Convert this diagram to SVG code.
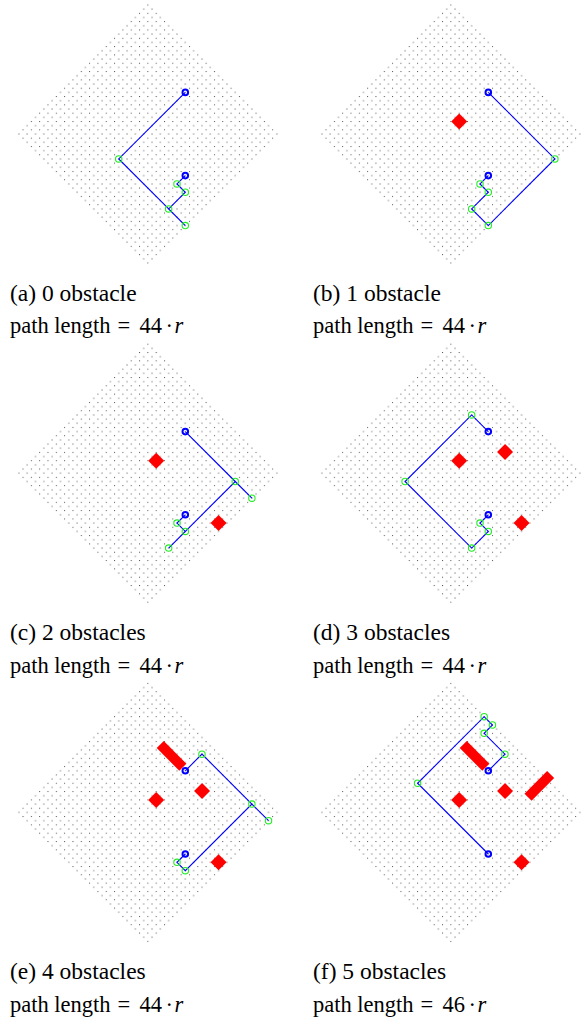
<svg xmlns="http://www.w3.org/2000/svg" width="584" height="1017" viewBox="0 0 584 1017">
<style>
.grid{fill:url(#dots)}
.path{fill:none;stroke:#0000ff;stroke-width:1.1;stroke-linejoin:miter}
.wp{fill:none;stroke:#22ee22;stroke-width:1.1}
.end{fill:none;stroke:#0000ff;stroke-width:2}
.obs{fill:#ff0000}
.cap{font-family:"Liberation Serif",serif;font-size:23.5px;fill:#000}
.l2{font-size:22.5px}
.it{font-style:italic}
</style>
<defs>
<pattern id="dots" patternUnits="userSpaceOnUse" x="-0.5" y="-0.5" width="8.322" height="8.322">
<rect x="0" y="0" width="1" height="1" fill="#555"/>
<rect x="4.161" y="4.161" width="1" height="1" fill="#555"/>
</pattern>
<polygon id="diamond" points="0,-2 131,129 0,260 -131,129"/>
<polygon id="obsA" points="8.32,108.51 16.32,116.51 8.32,124.51 0.32,116.51"/>
<polygon id="obsB" points="70.74,170.92 78.74,178.92 70.74,186.92 62.74,178.92"/>
<polygon id="obsC" points="54.2,99.7 62.2,107.7 54.2,115.7 46.2,107.7"/>
<rect id="bar1" x="-16" y="-5" width="32" height="10" transform="translate(23.7,72.5) rotate(45)"/>
<rect id="bar2" x="-16" y="-5" width="32" height="10" transform="translate(88.5,102.5) rotate(-45)"/>
</defs>

<g id="panel-a" transform="translate(147.85,5)">
<use href="#diamond" class="grid"/>
<g id="connectors-a"><polyline class="path" points="37.45,87.38 -29.13,153.96 20.81,203.89 37.45,220.53 20.81,203.89 37.45,187.25 29.13,178.92 37.45,170.6"/></g>
<g id="nodes-a">
<circle class="wp" cx="-29.13" cy="153.96" r="3.2"/>
<circle class="wp" cx="20.81" cy="203.89" r="3.2"/>
<circle class="wp" cx="37.45" cy="220.53" r="3.2"/>
<circle class="wp" cx="37.45" cy="187.25" r="3.2"/>
<circle class="wp" cx="29.13" cy="178.92" r="3.2"/>
<circle class="end" cx="37.45" cy="87.38" r="2.8"/>
<circle class="end" cx="37.45" cy="170.6" r="2.8"/>
</g>
</g>

<g id="panel-b" transform="translate(450.85,5)">
<use href="#diamond" class="grid"/>
<use href="#obsA" class="obs"/>
<g id="connectors-b"><polyline class="path" points="37.45,87.38 104.03,153.96 37.45,220.53 20.81,203.89 37.45,187.25 29.13,178.92 37.45,170.6"/></g>
<g id="nodes-b">
<circle class="wp" cx="104.03" cy="153.96" r="3.2"/>
<circle class="wp" cx="37.45" cy="220.53" r="3.2"/>
<circle class="wp" cx="20.81" cy="203.89" r="3.2"/>
<circle class="wp" cx="37.45" cy="187.25" r="3.2"/>
<circle class="wp" cx="29.13" cy="178.92" r="3.2"/>
<circle class="end" cx="37.45" cy="87.38" r="2.8"/>
<circle class="end" cx="37.45" cy="170.6" r="2.8"/>
</g>
</g>

<g id="panel-c" transform="translate(147.85,344.2)">
<use href="#diamond" class="grid"/>
<use href="#obsA" class="obs"/>
<use href="#obsB" class="obs"/>
<g id="connectors-c"><polyline class="path" points="37.45,87.38 87.38,137.31 104.03,153.96 87.38,137.31 20.81,203.89 37.45,187.25 29.13,178.92 37.45,170.6"/></g>
<g id="nodes-c">
<circle class="wp" cx="87.38" cy="137.31" r="3.2"/>
<circle class="wp" cx="104.03" cy="153.96" r="3.2"/>
<circle class="wp" cx="20.81" cy="203.89" r="3.2"/>
<circle class="wp" cx="37.45" cy="187.25" r="3.2"/>
<circle class="wp" cx="29.13" cy="178.92" r="3.2"/>
<circle class="end" cx="37.45" cy="87.38" r="2.8"/>
<circle class="end" cx="37.45" cy="170.6" r="2.8"/>
</g>
</g>

<g id="panel-d" transform="translate(450.85,344.2)">
<use href="#diamond" class="grid"/>
<use href="#obsA" class="obs"/>
<use href="#obsB" class="obs"/>
<use href="#obsC" class="obs"/>
<g id="connectors-d"><polyline class="path" points="37.45,87.38 20.81,70.74 -45.77,137.31 20.81,203.89 37.45,187.25 29.13,178.92 37.45,170.6"/></g>
<g id="nodes-d">
<circle class="wp" cx="20.81" cy="70.74" r="3.2"/>
<circle class="wp" cx="-45.77" cy="137.31" r="3.2"/>
<circle class="wp" cx="20.81" cy="203.89" r="3.2"/>
<circle class="wp" cx="37.45" cy="187.25" r="3.2"/>
<circle class="wp" cx="29.13" cy="178.92" r="3.2"/>
<circle class="end" cx="37.45" cy="87.38" r="2.8"/>
<circle class="end" cx="37.45" cy="170.6" r="2.8"/>
</g>
</g>

<g id="panel-e" transform="translate(147.85,683.4)">
<use href="#diamond" class="grid"/>
<use href="#obsA" class="obs"/>
<use href="#obsB" class="obs"/>
<use href="#obsC" class="obs"/>
<use href="#bar1" class="obs"/>
<g id="connectors-e"><polyline class="path" points="37.45,87.38 54.09,70.74 104.03,120.67 120.67,137.31 104.03,120.67 37.45,187.25 29.13,178.92 37.45,170.6"/></g>
<g id="nodes-e">
<circle class="wp" cx="54.09" cy="70.74" r="3.2"/>
<circle class="wp" cx="104.03" cy="120.67" r="3.2"/>
<circle class="wp" cx="120.67" cy="137.31" r="3.2"/>
<circle class="wp" cx="37.45" cy="187.25" r="3.2"/>
<circle class="wp" cx="29.13" cy="178.92" r="3.2"/>
<circle class="end" cx="37.45" cy="87.38" r="2.8"/>
<circle class="end" cx="37.45" cy="170.6" r="2.8"/>
</g>
</g>

<g id="panel-f" transform="translate(450.85,683.4)">
<use href="#diamond" class="grid"/>
<use href="#obsA" class="obs"/>
<use href="#obsB" class="obs"/>
<use href="#obsC" class="obs"/>
<use href="#bar1" class="obs"/>
<use href="#bar2" class="obs"/>
<g id="connectors-f"><polyline class="path" points="37.45,87.38 54.09,70.74 33.29,49.93 41.61,41.61 33.29,33.29 -33.29,99.86 37.45,170.6"/></g>
<g id="nodes-f">
<circle class="wp" cx="54.09" cy="70.74" r="3.2"/>
<circle class="wp" cx="33.29" cy="49.93" r="3.2"/>
<circle class="wp" cx="41.61" cy="41.61" r="3.2"/>
<circle class="wp" cx="33.29" cy="33.29" r="3.2"/>
<circle class="wp" cx="-33.29" cy="99.86" r="3.2"/>
<circle class="end" cx="37.45" cy="87.38" r="2.8"/>
<circle class="end" cx="37.45" cy="170.6" r="2.8"/>
</g>
</g>

<g id="captions" class="cap" font-family="Liberation Serif, serif">
<text x="10" y="300.7">(a) 0 obstacle</text>
<text class="l2" x="10" y="333.3">path length<tspan x="117.5">=</tspan><tspan x="139.5">44</tspan><tspan x="165.5">·</tspan><tspan x="174.5" class="it">r</tspan></text>
<text x="313" y="300.7">(b) 1 obstacle</text>
<text class="l2" x="313" y="333.3">path length<tspan x="420.5">=</tspan><tspan x="442.5">44</tspan><tspan x="468.5">·</tspan><tspan x="477.5" class="it">r</tspan></text>
<text x="10" y="639.9">(c) 2 obstacles</text>
<text class="l2" x="10" y="672.5">path length<tspan x="117.5">=</tspan><tspan x="139.5">44</tspan><tspan x="165.5">·</tspan><tspan x="174.5" class="it">r</tspan></text>
<text x="313" y="639.9">(d) 3 obstacles</text>
<text class="l2" x="313" y="672.5">path length<tspan x="420.5">=</tspan><tspan x="442.5">44</tspan><tspan x="468.5">·</tspan><tspan x="477.5" class="it">r</tspan></text>
<text x="10" y="979.1">(e) 4 obstacles</text>
<text class="l2" x="10" y="1011.7">path length<tspan x="117.5">=</tspan><tspan x="139.5">44</tspan><tspan x="165.5">·</tspan><tspan x="174.5" class="it">r</tspan></text>
<text x="313" y="979.1">(f) 5 obstacles</text>
<text class="l2" x="313" y="1011.7">path length<tspan x="420.5">=</tspan><tspan x="442.5">46</tspan><tspan x="468.5">·</tspan><tspan x="477.5" class="it">r</tspan></text>
</g>
</svg>
